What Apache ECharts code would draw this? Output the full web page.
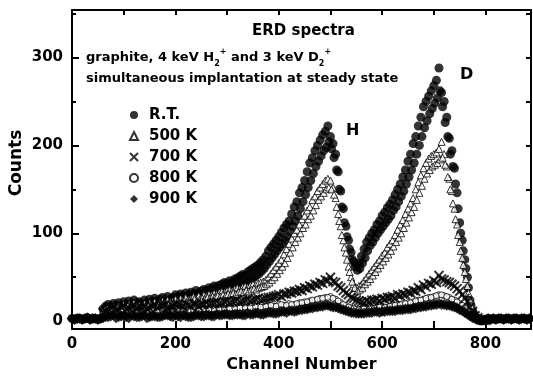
<!DOCTYPE html>
<html><head><meta charset="utf-8">
<script src="https://cdn.jsdelivr.net/npm/echarts@6/dist/echarts.min.js"></script>
<style>html,body{margin:0;padding:0;background:#fff}#c{width:533px;height:378px}</style>
</head><body><div id="c"></div>
<script>
// ---- data (channel number vs counts) ----
const seriesNames = ['R.T.', '500 K', '700 K', '800 K', '900 K'];
const xTickLabels = [0, 200, 400, 600, 800];
const yTickLabels = [0, 100, 200, 300];

// R.T. and 500 K: channels 60..800 every 5 (A) and 62..797 every 5 (B)
const rtValsA = [
  14,17,19,16,20,18,21,17,22,19,
  23,20,24,21,22,19,24,21,25,22,
  26,23,25,27,24,28,25,27,30,28,
  31,29,32,30,33,31,35,32,34,36,
  35,38,37,40,39,41,42,44,43,46,
  45,48,49,51,53,52,56,58,60,62,
  64,67,70,74,80,84,88,92,96,101,
  106,110,114,122,130,136,146,152,160,170,
  180,186,194,200,206,212,216,222,210,202,
  190,170,148,128,108,92,78,68,64,66,
  74,82,90,95,100,104,110,114,120,124,
  129,133,138,144,150,156,164,172,182,190,
  202,210,222,232,244,250,256,262,268,274,
  288,260,250,232,208,194,174,146,112,92,
  70,50,24,12,6,3,2,1,1
];
const rtValsB = [
  10,13,15,12,14,16,13,15,17,14,
  18,15,17,19,16,18,15,19,17,20,
  18,21,19,22,20,23,21,24,22,25,
  23,26,24,27,25,28,26,29,28,30,
  29,31,30,33,32,34,33,36,35,38,
  37,40,39,42,44,43,46,48,50,52,
  54,57,60,64,68,72,76,80,84,88,
  92,96,102,108,114,120,128,136,144,152,
  160,168,176,182,188,194,198,204,196,186,
  172,150,130,112,96,82,70,62,58,60,
  66,72,80,86,90,95,100,104,108,112,
  116,120,126,130,136,142,148,156,164,172,
  180,190,200,210,220,228,236,242,248,254,
  262,244,226,210,190,176,156,128,100,80,
  60,38,18,9,4,2,1,1
];
const k500ValsA = [
  11,14,16,13,17,15,18,15,19,17,
  20,17,21,18,19,16,20,18,21,19,
  22,20,21,23,20,24,22,23,25,23,
  26,24,27,25,26,28,26,29,27,30,
  29,31,30,32,31,33,34,33,35,36,
  35,37,38,37,39,40,39,41,42,41,
  43,44,45,47,50,54,58,62,66,70,
  76,82,88,94,100,104,110,116,120,126,
  130,138,142,148,152,156,160,162,160,152,
  140,122,108,92,78,62,50,42,38,40,
  42,46,50,54,58,62,66,70,75,78,
  84,88,92,98,104,110,115,122,128,134,
  140,150,158,166,174,180,185,188,190,192,
  196,204,190,176,162,148,128,110,90,72,
  56,40,24,12,6,3,2,1,1
];
const k500ValsB = [
  9,12,14,11,13,15,12,14,16,13,
  16,14,15,17,14,16,13,17,15,18,
  16,19,17,20,18,19,17,21,19,22,
  20,23,21,24,22,25,23,24,26,25,
  27,26,28,27,29,28,30,29,31,30,
  32,31,33,34,33,35,34,36,37,36,
  38,39,40,42,44,47,50,54,58,62,
  66,72,78,84,90,95,100,106,110,116,
  120,126,132,138,142,146,150,152,150,144,
  130,114,98,84,70,56,45,38,34,36,
  38,42,45,48,52,56,60,64,68,72,
  76,80,85,90,95,100,106,112,118,124,
  130,138,146,154,162,168,172,176,178,180,
  184,186,178,164,150,134,116,98,80,64,
  48,32,18,8,4,2,1,1
];
// 700 K, 800 K, 900 K: channels 60..800 every 10 (A) and 65..795 every 10 (B)
const k700ValsA = [
  10,14,16,13,17,15,18,16,17,15,
  18,17,19,16,19,18,20,17,20,19,
  21,20,22,20,23,22,24,23,25,24,
  26,25,27,28,30,31,33,34,36,38,
  40,42,44,47,50,44,38,32,27,24,
  22,23,24,25,26,27,28,30,31,33,
  35,38,41,43,46,52,47,44,40,34,
  26,16,6,2,1
];
const k700ValsB = [
  12,15,13,16,14,17,15,16,14,17,
  16,18,15,17,19,16,18,20,17,19,
  19,21,20,22,21,23,22,24,23,25,
  24,26,27,29,28,31,32,34,35,37,
  39,41,43,46,45,40,35,30,26,23,
  21,22,24,23,25,27,26,29,30,32,
  34,36,39,42,44,48,45,42,37,30,
  22,11,4,1
];
const k800ValsA = [
  8,11,12,10,13,11,12,10,13,11,
  12,11,13,12,14,12,13,11,14,13,
  14,12,15,14,15,14,16,15,16,15,
  17,16,18,17,19,18,20,19,21,22,
  23,24,26,27,28,25,21,18,15,13,
  14,15,15,16,17,16,18,19,20,21,
  22,24,25,27,28,30,29,27,24,20,
  15,9,4,2,1
];
const k800ValsB = [
  9,12,10,11,13,10,12,11,12,13,
  11,12,13,11,13,14,12,13,12,14,
  13,14,13,15,14,15,15,16,15,17,
  16,17,18,17,19,18,19,20,21,22,
  24,25,26,27,26,23,19,16,14,13,
  14,14,15,16,16,17,18,19,20,21,
  23,24,26,27,29,30,28,25,22,18,
  12,6,3,1
];
const k900ValsA = [
  4,5,7,5,6,4,6,5,7,5,
  6,5,7,6,7,5,6,5,7,6,
  7,6,8,7,8,7,8,7,9,8,
  9,8,10,9,10,11,12,11,13,14,
  15,16,17,18,17,16,14,12,10,9,
  9,10,10,11,11,12,12,13,13,14,
  15,16,17,18,19,20,19,18,16,13,
  10,6,3,1,1
];
const k900ValsB = [
  5,6,4,6,5,7,5,6,4,6,
  5,6,7,5,6,7,5,6,7,6,
  7,6,7,8,7,8,8,7,8,9,
  8,9,10,9,11,10,12,12,13,14,
  15,16,17,18,16,15,13,11,10,9,
  9,10,11,10,11,12,12,13,14,14,
  15,16,17,18,19,19,18,17,15,12,
  8,4,2,1
];
// baseline counts outside the peaks (channels 0..55 and 805..885, every 5)
const baseLeftVals = [3,2,3,3,2,3,4,2,3,3,2,3];
const baseRightVals = [3,2,3,2,3,3,2,3,3,2,3,3,2,3,3,2,3];

function pairs(start, step, vals) { return vals.map((v, i) => [start + step * i, v]); }

const FF = 'DejaVu Sans';
const chart = echarts.init(document.getElementById('c'), null, {renderer: 'canvas'});

const range = (a, b, s) => { const r = []; for (let v = a; v <= b; v += s) r.push(v); return r; };
const blackLine = {color: '#000', width: 2};

const option = {
  animation: false,
  backgroundColor: '#fff',
  grid: {left: 72, right: 2, top: 10, bottom: 44},
  xAxis: [
    {type: 'value', min: 0, max: 888, position: 'bottom',
     axisLine: {onZero: false, lineStyle: blackLine},
     axisTick: {inside: true, length: 8, customValues: range(0, 800, 100), lineStyle: blackLine},
     axisLabel: {customValues: xTickLabels, margin: 8, fontFamily: FF, fontWeight: 'bold', fontSize: 15, color: '#000'},
     splitLine: {show: false},
     name: 'Channel Number', nameLocation: 'middle', nameGap: 22,
     nameTextStyle: {fontFamily: FF, fontWeight: 'bold', fontSize: 16, color: '#000'}},
    {type: 'value', min: 0, max: 888, position: 'top',
     axisLine: {onZero: false, lineStyle: blackLine},
     axisTick: {inside: true, length: 5, customValues: range(100, 800, 100), lineStyle: blackLine},
     axisLabel: {show: false}, splitLine: {show: false}}
  ],
  yAxis: [
    {type: 'value', min: -9, max: 354, position: 'left',
     axisLine: {show: true, onZero: false, lineStyle: blackLine},
     axisTick: {show: true, inside: true, length: 7, customValues: yTickLabels, lineStyle: blackLine},
     axisLabel: {customValues: yTickLabels, margin: 9, fontFamily: FF, fontWeight: 'bold', fontSize: 15, color: '#000'},
     splitLine: {show: false}},
    {type: 'value', min: -9, max: 354, position: 'left',
     axisLine: {show: false, onZero: false},
     axisTick: {show: true, inside: true, length: 4, customValues: [50, 150, 250, 350], lineStyle: blackLine},
     axisLabel: {show: false}, splitLine: {show: false}},
    {type: 'value', min: -9, max: 354, position: 'right',
     axisLine: {show: true, onZero: false, lineStyle: blackLine},
     axisTick: {show: true, inside: true, length: 5, customValues: range(0, 350, 50), lineStyle: blackLine},
     axisLabel: {show: false}, splitLine: {show: false}}
  ],
  legend: {
    orient: 'vertical', left: 124, top: 102, itemWidth: 8, itemHeight: 8, itemGap: 5,
    selectedMode: false, data: seriesNames,
    textStyle: {fontFamily: FF, fontWeight: 'bold', fontSize: 15, color: '#000', lineHeight: 16, padding: [0, 0, 0, 6]}
  },
  graphic: [
    {type: 'text', left: 252, top: 24, style: {text: 'ERD spectra', fontFamily: FF, fontWeight: 'bold', fontSize: 15, fill: '#000'}},
    {type: 'text', left: 86, top: 48, style: {
      text: '{t|graphite, 4 keV H}{sb|2}{sp|+}{t| and 3 keV D}{sb|2}{sp|+}',
      rich: {
        t: {fontFamily: FF, fontWeight: 'bold', fontSize: 13, fill: '#000', lineHeight: 20, verticalAlign: 'middle'},
        sb: {fontFamily: FF, fontWeight: 'bold', fontSize: 8, fill: '#000', lineHeight: 20, verticalAlign: 'bottom'},
        sp: {fontFamily: FF, fontWeight: 'bold', fontSize: 8, fill: '#000', lineHeight: 20, verticalAlign: 'top'}
      }}},
    {type: 'text', left: 86, top: 72, style: {text: 'simultaneous implantation at steady state', fontFamily: FF, fontWeight: 'bold', fontSize: 13, fill: '#000'}},
    {type: 'text', left: 346, top: 123, style: {text: 'H', fontFamily: FF, fontWeight: 'bold', fontSize: 16, fill: '#000'}},
    {type: 'text', left: 460, top: 67, style: {text: 'D', fontFamily: FF, fontWeight: 'bold', fontSize: 16, fill: '#000'}},
    {type: 'text', x: 17, y: 163, rotation: Math.PI / 2, style: {text: 'Counts', fontFamily: FF, fontWeight: 'bold', fontSize: 17, fill: '#000', align: 'center', verticalAlign: 'middle'}}
  ],
  series: [
    {name: 'R.T.', type: 'scatter', symbol: 'circle', symbolSize: 9,
     itemStyle: {color: '#000'},
     data: pairs(0, 5, baseLeftVals).concat(pairs(60, 5, rtValsA), pairs(62, 5, rtValsB), pairs(805, 5, baseRightVals))},
    {name: '500 K', type: 'scatter', symbol: 'triangle', symbolSize: 7,
     itemStyle: {color: '#fff', borderColor: '#000', borderWidth: 1},
     data: pairs(60, 5, k500ValsA).concat(pairs(62, 5, k500ValsB))},
    {name: '800 K', type: 'scatter', symbol: 'circle', symbolSize: 6,
     itemStyle: {color: '#fff', borderColor: '#000', borderWidth: 1},
     data: pairs(60, 10, k800ValsA).concat(pairs(65, 10, k800ValsB))},
    {name: '700 K', type: 'scatter', symbol: 'path://M0,0L10,10M10,0L0,10', symbolSize: 9,
     itemStyle: {color: '#000', borderColor: '#000', borderWidth: 2},
     data: pairs(60, 10, k700ValsA).concat(pairs(65, 10, k700ValsB))},
    {name: '900 K', type: 'scatter', symbol: 'diamond', symbolSize: 11,
     itemStyle: {color: '#000'},
     data: pairs(0, 5, baseLeftVals).concat(pairs(60, 10, k900ValsA), pairs(65, 10, k900ValsB), pairs(805, 5, baseRightVals))}
  ]
};
chart.setOption(option);
</script></body></html>
